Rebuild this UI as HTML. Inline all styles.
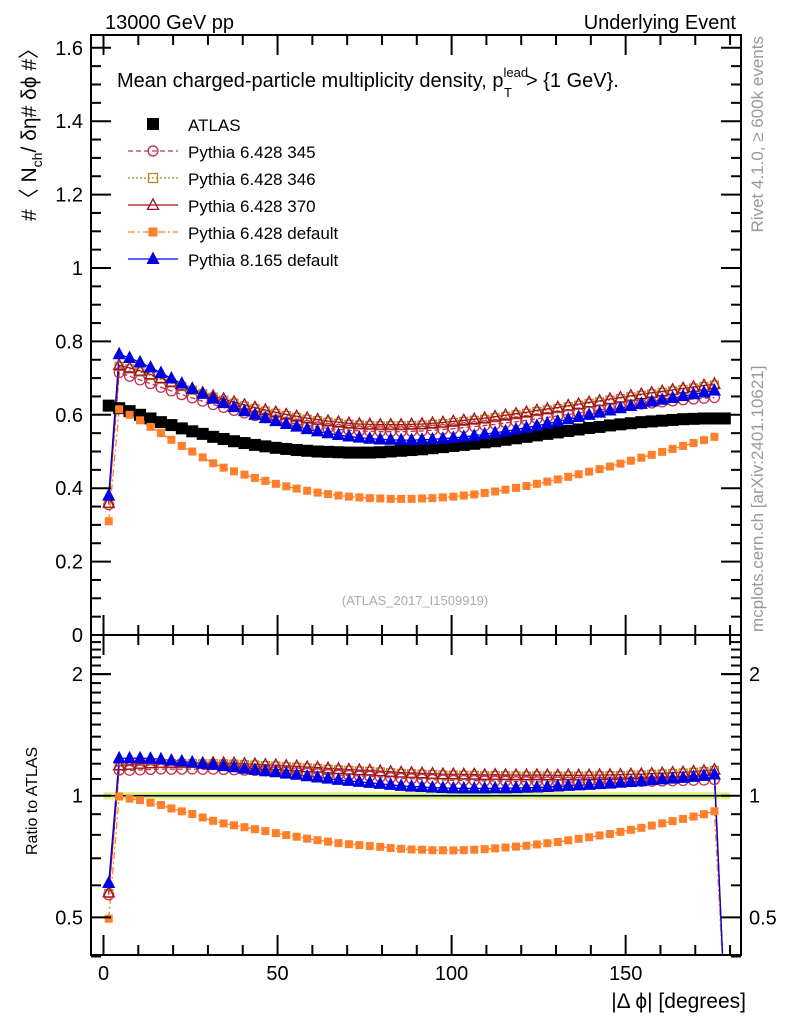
<!DOCTYPE html>
<html><head><meta charset="utf-8"><style>
html,body{margin:0;padding:0;background:#fff;}
svg{display:block;font-family:"Liberation Sans",sans-serif;}
</style></head><body>
<svg id="chart" width="786" height="1024" viewBox="0 0 786 1024" xmlns="http://www.w3.org/2000/svg">
<defs>
<clipPath id="clipTop"><rect x="91" y="35" width="650" height="600"/></clipPath>
<clipPath id="clipBot"><rect x="91" y="635" width="650" height="320"/></clipPath>
</defs>
<g id="layer"></g>
<text x="105" y="29" font-size="20">13000 GeV pp</text>
<text x="736" y="29" font-size="20" text-anchor="end">Underlying Event</text>
<text x="117" y="87" font-size="20">Mean charged-particle multiplicity density, p<tspan font-size="13" dy="-10">lead</tspan><tspan font-size="13" dx="-24" dy="20">T</tspan><tspan dx="14" dy="-10">&gt; {1 GeV}.</tspan></text>
<text transform="translate(36,38) rotate(-90)" font-size="21" text-anchor="end">#〈 N<tspan font-size="14" dy="6">ch</tspan><tspan dy="-6">/ δη# δϕ #〉</tspan></text>
<text transform="translate(37,855) rotate(-90)" font-size="16">Ratio to ATLAS</text>
<text x="746" y="1008" font-size="21" text-anchor="end">|Δ ϕ| [degrees]</text>
<text transform="translate(763,36) rotate(-90)" font-size="17" fill="#999" text-anchor="end">Rivet 4.1.0, ≥ 600k events</text>
<text transform="translate(763,632) rotate(-90)" font-size="17" fill="#999">mcplots.cern.ch [arXiv:2401.10621]</text>
<text x="415" y="605" font-size="13" fill="#aaa" text-anchor="middle">(ATLAS_2017_I1509919)</text>
</svg>
<script>
const xs = [];
for (let i = 0; i < 60; i++) xs.push(1.5 + 3 * i);
const atlas = [0.625,0.618,0.61,0.60,0.59,0.58,0.572,0.563,0.555,0.548,0.54,0.534,0.528,0.523,0.518,0.514,0.51,0.507,0.504,0.502,0.5,0.499,0.498,0.497,0.497,0.497,0.498,0.5,0.502,0.504,0.506,0.509,0.512,0.515,0.518,0.521,0.525,0.528,0.532,0.536,0.54,0.544,0.548,0.552,0.556,0.56,0.564,0.567,0.571,0.574,0.577,0.58,0.582,0.584,0.586,0.588,0.589,0.59,0.59,0.59];
const py345 = [0.355,0.715,0.705,0.695,0.685,0.675,0.665,0.655,0.646,0.637,0.628,0.62,0.612,0.605,0.598,0.592,0.586,0.58,0.575,0.571,0.567,0.563,0.56,0.558,0.556,0.555,0.554,0.554,0.554,0.555,0.556,0.558,0.56,0.562,0.565,0.568,0.571,0.574,0.578,0.581,0.585,0.589,0.593,0.597,0.601,0.605,0.609,0.613,0.617,0.621,0.625,0.629,0.632,0.635,0.638,0.641,0.643,0.645,0.647];
const py346 = [0.358,0.732,0.725,0.717,0.707,0.697,0.687,0.677,0.667,0.657,0.648,0.64,0.632,0.624,0.617,0.61,0.604,0.598,0.593,0.588,0.584,0.58,0.577,0.574,0.572,0.571,0.57,0.57,0.57,0.571,0.572,0.574,0.576,0.579,0.582,0.585,0.588,0.592,0.596,0.6,0.604,0.609,0.613,0.617,0.622,0.626,0.631,0.635,0.64,0.644,0.649,0.653,0.657,0.661,0.665,0.669,0.673,0.677,0.681];
const py370 = [0.36,0.735,0.728,0.72,0.71,0.70,0.69,0.68,0.67,0.66,0.651,0.643,0.635,0.627,0.62,0.613,0.607,0.601,0.596,0.591,0.587,0.583,0.58,0.577,0.575,0.574,0.573,0.573,0.573,0.574,0.575,0.577,0.579,0.582,0.585,0.588,0.591,0.595,0.599,0.603,0.607,0.612,0.616,0.62,0.625,0.629,0.634,0.638,0.643,0.647,0.652,0.656,0.66,0.664,0.668,0.672,0.676,0.68,0.684];
const pyDef = [0.31,0.615,0.60,0.585,0.567,0.55,0.532,0.515,0.50,0.484,0.468,0.456,0.446,0.437,0.428,0.42,0.412,0.405,0.399,0.393,0.388,0.384,0.38,0.377,0.375,0.373,0.372,0.371,0.371,0.371,0.372,0.373,0.375,0.377,0.38,0.383,0.387,0.391,0.396,0.401,0.406,0.412,0.418,0.424,0.431,0.438,0.445,0.452,0.459,0.467,0.475,0.483,0.491,0.499,0.507,0.515,0.523,0.531,0.54];
const py8 = [0.38,0.765,0.755,0.743,0.729,0.714,0.699,0.685,0.671,0.657,0.644,0.632,0.621,0.61,0.6,0.591,0.583,0.575,0.568,0.561,0.555,0.55,0.545,0.541,0.538,0.535,0.533,0.532,0.531,0.531,0.532,0.533,0.535,0.537,0.54,0.543,0.547,0.551,0.555,0.56,0.565,0.57,0.576,0.582,0.588,0.594,0.6,0.606,0.612,0.618,0.624,0.63,0.636,0.641,0.646,0.651,0.656,0.661,0.666];
const yTicksTop = [0,0.2,0.4,0.6,0.8,1,1.2,1.4,1.6];
const yTickLabelsTop = ["0","0.2","0.4","0.6","0.8","1","1.2","1.4","1.6"];
const xTicks = [0,50,100,150];
const ratioTicks = [0.5,1,2];
const ratioTickLabels = ["0.5","1","2"];

const NS = "http://www.w3.org/2000/svg";
const L = 91, R = 741, T = 35, M = 635, B = 955;
const xPx = v => 103.5 + v * 3.481;
const yTop = v => 635 - v * 367;
const yBot = v => 795.7 - Math.log10(v) * 404;
const layer = document.getElementById('layer');
function mk(tag, attrs, parent) {
  const e = document.createElementNS(NS, tag);
  for (const k in attrs) e.setAttribute(k, attrs[k]);
  (parent || layer).appendChild(e);
  return e;
}
function ln(x1,y1,x2,y2,p){ return mk('line',{x1,y1,x2,y2,stroke:'#000','stroke-width':2},p); }

const band = mk('rect',{x:xPx(0),y:yBot(1.022),width:xPx(180)-xPx(0),height:yBot(0.978)-yBot(1.022),fill:'#f0f08a'});


const band2 = mk('rect',{x:xPx(0),y:yBot(1.01),width:xPx(180)-xPx(0),height:yBot(0.99)-yBot(1.01),fill:'#a8e89a'});


const one = ln(xPx(0),yBot(1),xPx(180),yBot(1));


one.setAttribute('stroke-width', '1.5');

const series = [
  {name:'pythia-6428-345', label:'Pythia 6.428 345', data:py345, color:'#c03050', dash:'5,3', marker:'circle', fill:'none'},
  {name:'pythia-6428-346', label:'Pythia 6.428 346', data:py346, color:'#b8862b', dash:'2,2', marker:'square', fill:'none'},
  {name:'pythia-6428-370', label:'Pythia 6.428 370', data:py370, color:'#a01020', dash:'', marker:'triangle', fill:'none'},
  {name:'pythia-6428-default', label:'Pythia 6.428 default', data:pyDef, color:'#ff7f2a', dash:'7,3,2,3', marker:'square', fill:'#ff7f2a'},
  {name:'pythia-8165-default', label:'Pythia 8.165 default', data:py8, color:'#0000e0', dash:'', marker:'triangle', fill:'#0000e0'}
];
function marker(type, x, y, color, fill, size, parent, nm) {
  let e;
  if (type === 'circle') e = mk('circle',{cx:x,cy:y,r:size*0.45,fill:fill,stroke:color,'stroke-width':1.3},parent);
  else if (type === 'square') e = mk('rect',{x:x-size/2,y:y-size/2,width:size,height:size,fill:fill,stroke:color,'stroke-width':fill==='none'?1.3:0},parent);
  else e = mk('polygon',{points:`${x},${y-size*0.55} ${x-size*0.5},${y+size*0.4} ${x+size*0.5},${y+size*0.4}`,fill:fill,stroke:color,'stroke-width':1.3},parent);
  
  
  return e;
}
const gTop = mk('g',{'clip-path':'url(#clipTop)'});


const gBot = mk('g',{'clip-path':'url(#clipBot)'});



series.forEach(s => {
  const pts = s.data.map((v,i)=>`${xPx(xs[i])},${yTop(v)}`).join(' ');
  const pl = mk('polyline',{points:pts,fill:'none',stroke:s.color,'stroke-width':1.3,'stroke-dasharray':s.dash},gTop);
  
  
  const rp = s.data.map((v,i)=>`${xPx(xs[i])},${yBot(v/atlas[i])}`);
  rp.push(`${xPx(xs[59])},${yBot(0.3)}`);
  const rl = mk('polyline',{points:rp.join(' '),fill:'none',stroke:s.color,'stroke-width':1.3,'stroke-dasharray':s.dash},gBot);
  
  
});
atlas.forEach((v,i)=>{
  const r = mk('rect',{x:xPx(xs[i])-6,y:yTop(v)-6,width:12,height:12,fill:'#000'},gTop);
  
  
});
series.forEach(s => {
  const sz = s.marker==='square' ? 8 : 11;
  s.data.forEach((v,i)=>{
    marker(s.marker, xPx(xs[i]), yTop(v), s.color, s.fill, sz, gTop, s.name + '-point');
    marker(s.marker, xPx(xs[i]), yBot(v/atlas[i]), s.color, s.fill, sz, gBot, s.name + '-ratio-point');
  });
});

const f1 = mk('rect',{x:L,y:T,width:R-L,height:M-T,fill:'none',stroke:'#000','stroke-width':2});


const f2 = mk('rect',{x:L,y:M,width:R-L,height:B-M,fill:'none',stroke:'#000','stroke-width':2});



for (let v = 0; v <= 1.64; v += 0.05) {
  const major = Math.abs(v/0.2 - Math.round(v/0.2)) < 1e-6;
  const y = yTop(v), len = major ? 20 : 10;
  ln(L,y,L+len,y); ln(R,y,R-len,y);
}
yTicksTop.forEach((v,i)=>{
  const t = mk('text',{x:L-8,y:yTop(v)+7,'font-size':20,'text-anchor':'end'});
  t.textContent = yTickLabelsTop[i];
  
  
});
for (let v = 0; v <= 180; v += 10) {
  const major = v % 50 === 0, x = xPx(v), len = major ? 20 : 10;
  ln(x,M,x,M-len); ln(x,M,x,M+len); ln(x,B,x,B-len); ln(x,T,x,T+len);
}
xTicks.forEach(v=>{
  const t = mk('text',{x:xPx(v),y:980,'font-size':20,'text-anchor':'middle'});
  t.textContent = String(v);
  
  
});
const rminor = [0.4,0.5,0.6,0.7,0.8,0.9,1,2];
for (let v = 1.1; v < 2.5; v += 0.1) rminor.push(v);
rminor.forEach(v=>{
  const major = ratioTicks.some(t=>Math.abs(t-v)<1e-6);
  const y = yBot(v), len = major ? 20 : 10;
  ln(L,y,L+len,y); ln(R,y,R-len,y);
});
ratioTicks.forEach((v,i)=>{
  const t = mk('text',{x:L-8,y:yBot(v)+7,'font-size':20,'text-anchor':'end'});
  t.textContent = ratioTickLabels[i];
  
  
  const t2 = mk('text',{x:R+8,y:yBot(v)+7,'font-size':20});
  t2.textContent = ratioTickLabels[i];
  
  
});

const lg = mk('g',{});


const ae = mk('rect',{x:147,y:118,width:12,height:12,fill:'#000'},lg);


const at = mk('text',{x:188,y:131,'font-size':17},lg);
at.textContent = 'ATLAS';


series.forEach((s,i)=>{
  const y = 151 + 27*i;
  const l = mk('line',{x1:128,y1:y,x2:178,y2:y,stroke:s.color,'stroke-width':1.3,'stroke-dasharray':s.dash},lg);
  
  
  marker(s.marker, 153, y, s.color, s.fill, s.marker==='square'?9:11, lg, 'legend-marker');
  const t = mk('text',{x:188,y:y+7,'font-size':17},lg);
  t.textContent = s.label;
  
  
});
</script>
</body></html>
